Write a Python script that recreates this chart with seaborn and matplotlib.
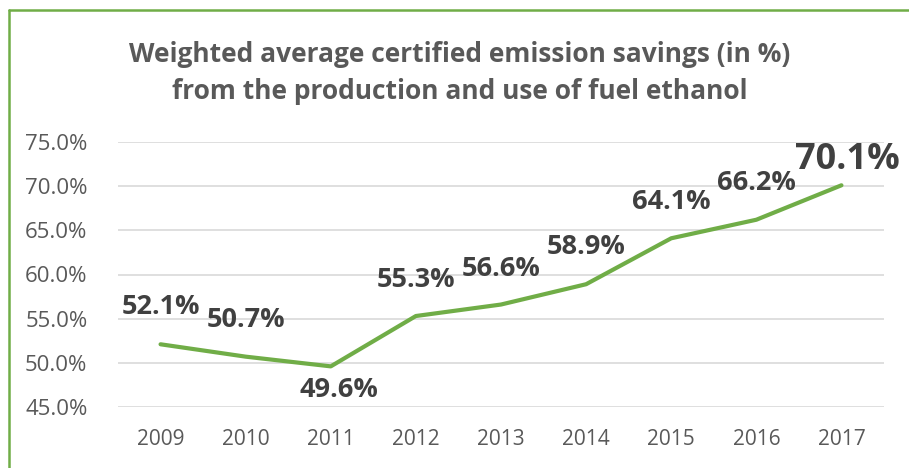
import matplotlib
matplotlib.use('Agg')
import matplotlib.pyplot as plt
from matplotlib.lines import Line2D
import seaborn as sns
import pandas as pd

years = ['2009', '2010', '2011', '2012', '2013', '2014', '2015', '2016', '2017']
savings = [52.1, 50.7, 49.6, 55.3, 56.6, 58.9, 64.1, 66.2, 70.1]
yticks = [45, 50, 55, 60, 65, 70, 75]

# label placement (pixels from point) and size
label_dx = [0, 0, 8, 0, 0, 0, 0, 0, 6]
label_dy = [37, 37, -24, 36, 36, 37, 36, 37, 25]
label_size = [19.5, 19.5, 19.5, 19.5, 19.5, 19.5, 19.5, 19.5, 26]

green = '#70AD47'
grey = '#595959'
dark = '#404040'

sns.set_style('white')
plt.rcParams['font.family'] = ['Open Sans', 'DejaVu Sans']

df = pd.DataFrame({'year': years, 'saving': savings})

fig = plt.figure(figsize=(9.09, 4.68), dpi=100)
ax = fig.add_axes([118 / 909, 1 - 407 / 468, (884 - 118) / 909, (407 - 142) / 468])

sns.lineplot(data=df, x='year', y='saving', color=green, linewidth=3, ax=ax,
             solid_capstyle='round', zorder=3)

ax.set_xlim(-0.5, len(years) - 0.5)
ax.set_ylim(45, 75)
ax.set_yticks(yticks)
ax.set_yticklabels([f'{v:.1f}%' for v in yticks])
ax.yaxis.grid(True, color='#D9D9D9', linewidth=1.2)
ax.xaxis.grid(False)
for s in ax.spines.values():
    s.set_visible(False)
ax.tick_params(axis='both', length=0, labelsize=15, labelcolor=grey)
ax.tick_params(axis='y', pad=22, labelsize=16)
ax.tick_params(axis='x', pad=16)
ax.set_xlabel('')
ax.set_ylabel('')

for i, v in enumerate(savings):
    ax.annotate(f'{v:.1f}%', (i, v), xytext=(label_dx[i], label_dy[i]),
                textcoords='offset pixels', ha='center', va='center',
                fontsize=label_size[i], fontweight='bold', color=dark)

fig.text(0.506, 1 - 73 / 468,
         'Weighted average certified emission savings (in %)\nfrom the production and use of fuel ethanol',
         ha='center', va='center', fontsize=19, fontweight='bold', color=grey,
         linespacing=1.45)

# green chart border (left and top edges visible)
fig.add_artist(Line2D([9 / 909, 9 / 909], [0, 1 - 10 / 468], color=green, linewidth=1.8,
                      transform=fig.transFigure))
fig.add_artist(Line2D([9 / 909, 1], [1 - 10 / 468, 1 - 10 / 468], color=green, linewidth=1.8,
                      transform=fig.transFigure))

fig.savefig('out.png', dpi=100)
